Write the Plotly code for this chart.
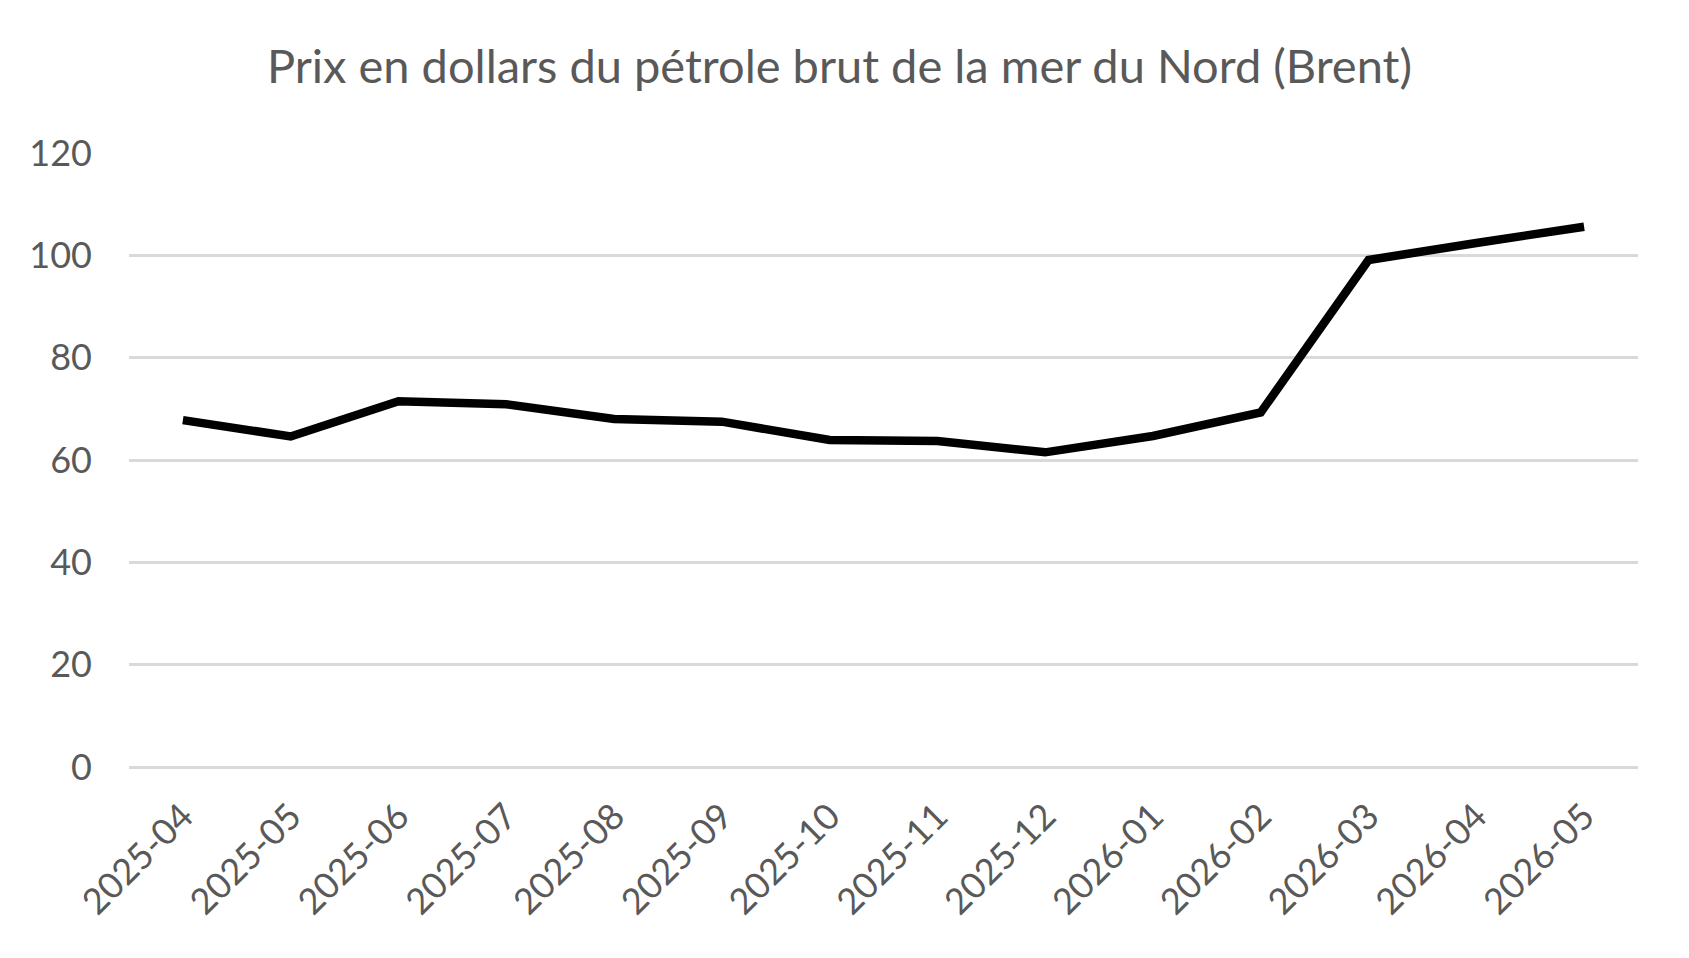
import plotly.graph_objects as go

months = ["2025-04", "2025-05", "2025-06", "2025-07", "2025-08", "2025-09", "2025-10",
          "2025-11", "2025-12", "2026-01", "2026-02", "2026-03", "2026-04", "2026-05"]
brent = [67.8, 64.6, 71.5, 70.9, 68.0, 67.5, 63.9, 63.7, 61.5, 64.7, 69.3, 99.1, 102.4, 105.6]
y_ticks = [0, 20, 40, 60, 80, 100, 120]
title_text = "Prix en dollars du pétrole brut de la mer du Nord (Brent)"

W, H = 1689, 958
font_family = "Lato, 'Open Sans', sans-serif"
text_color = "#595959"

fig = go.Figure()
fig.add_trace(go.Scatter(
    x=months, y=brent, mode="lines",
    line=dict(color="#000000", width=8.5),
    showlegend=False, hoverinfo="x+y",
))

fig.update_layout(
    width=W, height=H,
    paper_bgcolor="white", plot_bgcolor="white",
    margin=dict(l=129, r=51, t=153, b=191, pad=0),
    title=dict(text=title_text, x=0.497, xanchor="center", y=1 - 67 / H, yanchor="middle",
               xref="container", yref="container",
               font=dict(family=font_family, size=47, color=text_color)),
    font=dict(family=font_family, color=text_color),
)
fig.update_xaxes(
    type="category", range=[-0.5, len(months) - 0.5],
    tickangle=-45, tickfont=dict(size=36, color=text_color),
    showgrid=False, zeroline=False, showline=False, ticks="",
    ticklabelstandoff=20,
)
fig.update_yaxes(
    range=[0, 120], tickvals=y_ticks, ticktext=[str(v) for v in y_ticks],
    tickfont=dict(size=36, color=text_color),
    showgrid=True, gridcolor="#D9D9D9", gridwidth=2.5,
    zeroline=True, zerolinecolor="#D9D9D9", zerolinewidth=2.5,
    showline=False, ticks="", ticklabelstandoff=36,
)

fig.write_html("out.html")
